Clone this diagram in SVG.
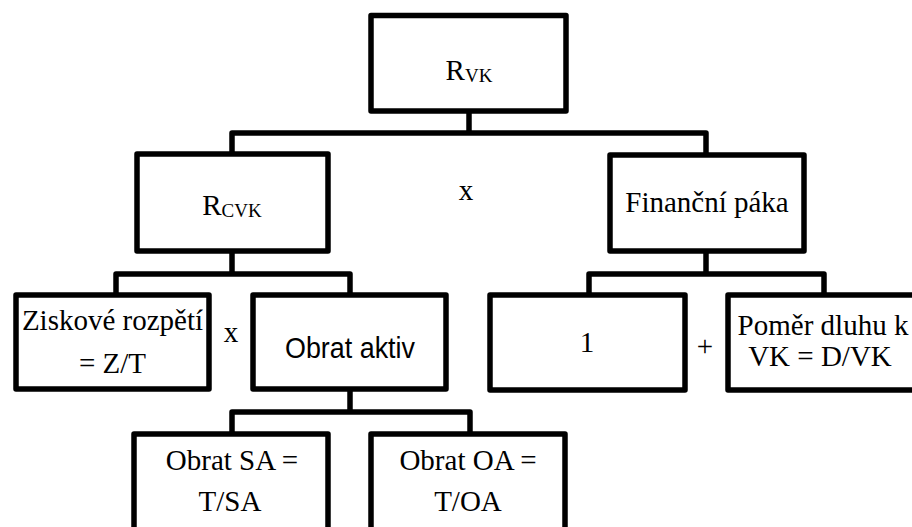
<svg xmlns="http://www.w3.org/2000/svg" width="912" height="527" viewBox="0 0 912 527">
<style>
.box{fill:#fff;stroke:#000;stroke-width:5.5;stroke-linejoin:round}
.con{fill:none;stroke:#000;stroke-width:5.5;stroke-linejoin:round}
text{fill:#000;text-anchor:middle;font-size:29px}
</style>
<rect x="0" y="0" width="912" height="527" fill="#fff"/>
<g id="connectors">
<path class="con" d="M469,111 V133 M232,154 V133 H706 V155"/>
<path class="con" d="M232,251 V274 M116,295 V274 H350 V295"/>
<path class="con" d="M706,251 V274 M589,295 V274 H824 V295"/>
<path class="con" d="M350,389 V412 M232,434 V412 H470 V434"/>
</g>
<g font-family="Liberation Serif, Times New Roman, serif">
<g id="n-rvk">
<rect class="box" x="371" y="15.5" width="195" height="95.5"/>
<text x="469" y="80" font-size="28">R<tspan font-size="19" dy="2">VK</tspan></text>
</g>
<g id="n-rcvk">
<rect class="box" x="137" y="154" width="191" height="97"/>
<text x="232" y="215" font-size="28">R<tspan font-size="19" dy="2">CVK</tspan></text>
</g>
<text x="466" y="200">x</text>
<g id="n-paka">
<rect class="box" x="610" y="155" width="194" height="96"/>
<text x="707" y="212">Finanční páka</text>
</g>
<g id="n-zisk">
<rect class="box" x="16" y="295" width="193" height="94"/>
<text x="112.5" y="330">Ziskové rozpětí</text>
<text x="112.5" y="373">= Z/T</text>
</g>
<text x="231" y="342">x</text>
<g id="n-one">
<rect class="box" x="490" y="295" width="195" height="95"/>
<text x="587" y="352">1</text>
</g>
<text x="705" y="356">+</text>
<g id="n-pomer">
<rect class="box" x="728" y="295" width="210" height="95"/>
<text x="823" y="335">Poměr dluhu k</text>
<text x="820" y="366">VK = D/VK</text>
</g>
<g id="n-sa">
<rect class="box" x="134" y="434" width="194" height="110"/>
<text x="232" y="470">Obrat SA =</text>
<text x="230" y="511">T/SA</text>
</g>
<g id="n-oa">
<rect class="box" x="371" y="434" width="194" height="110"/>
<text x="468" y="470">Obrat OA =</text>
<text x="468" y="511">T/OA</text>
</g>
</g>
<g id="n-obrat">
<rect class="box" x="253" y="295" width="193" height="94"/>
<text x="350" y="358" font-family="Liberation Sans, Arial, sans-serif" textLength="130" lengthAdjust="spacingAndGlyphs">Obrat aktiv</text>
</g>
</svg>
